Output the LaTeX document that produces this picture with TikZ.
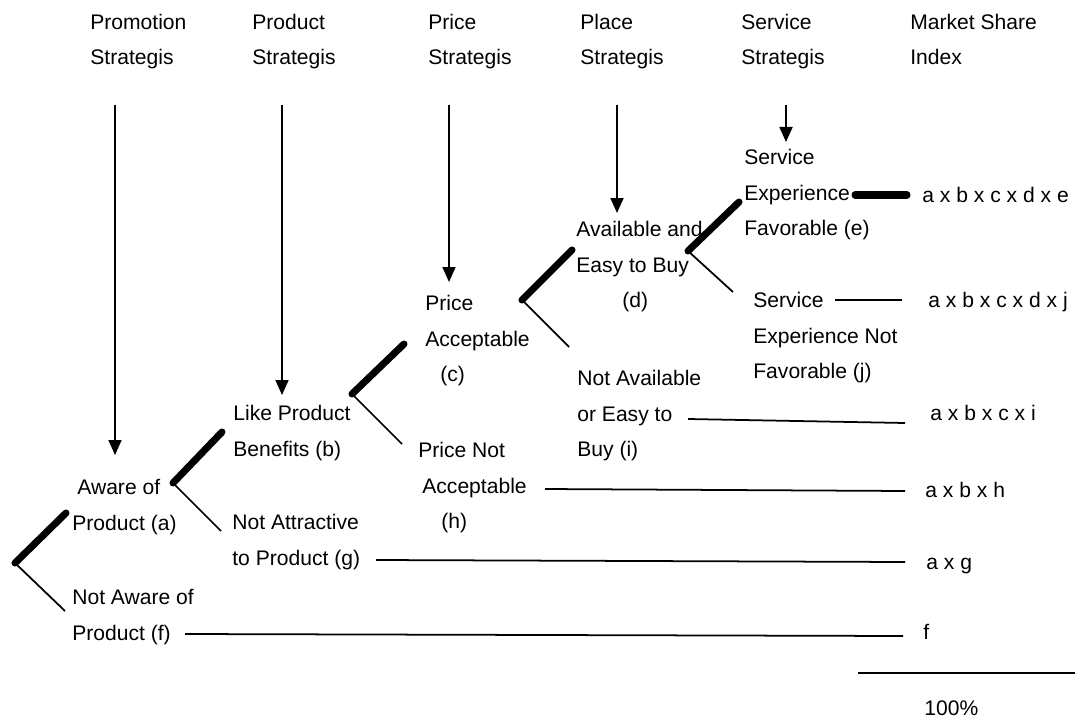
\documentclass[tikz,border=0pt]{standalone}
\usepackage{fontspec}
\setmainfont{Liberation Sans}
\usetikzlibrary{arrows.meta}

\begin{document}
\begin{tikzpicture}[
  x=0.02cm, y=-0.02cm,
  font=\fontsize{12}{20.3}\selectfont,
  lbl/.style={anchor=base west, inner sep=0pt, align=left},
  drop/.style={-{Triangle[length=0.3cm, width=0.26cm]}, line width=1pt},
  yes/.style={line width=4pt, line cap=round},
  no/.style={line width=1pt},
  share/.style={line width=1pt}
]
\useasboundingbox (0,0) rectangle (1077,719);

% column heads (placed by their last line)
\node[lbl] (hPromo) at (90,64.7) {Promotion\\Strategis};
\node[lbl] (hProd) at (252,64.7) {Product\\Strategis};
\node[lbl] (hPrice) at (428,64.7) {Price\\Strategis};
\node[lbl] (hPlace) at (580,64.7) {Place\\Strategis};
\node[lbl] (hServ) at (741,64.7) {Service\\Strategis};
\node[lbl] (hIndex) at (910,64.7) {Market Share\\Index};

% outcomes
\node[lbl] (servE) at (744,235.9) {Service\\Experience\\Favorable (e)};
\node[lbl] (availD) at (576,307.9) {Available and\\Easy to Buy\\\hspace{0.92cm}(d)};
\node[lbl] (priceC) at (425,381.9) {Price\\Acceptable\\\hspace{0.3cm}(c)};
\node[lbl] (servJ) at (753,378.9) {Service\\Experience Not\\Favorable (j)};
\node[lbl] (notAvI) at (577,456.9) {Not Available\\or Easy to\\Buy (i)};
\node[lbl] (likeB) at (233,456.2) {Like Product\\Benefits (b)};
\node[lbl] (priceH) at (418,528.9) {Price Not\\\hspace{0.08cm}Acceptable\\\hspace{0.46cm}(h)};
\node[lbl] (awareA) at (72,530.2) {\hspace{0.1cm}Aware of\\Product (a)};
\node[lbl] (notAttrG) at (232,565.2) {Not Attractive\\to Product (g)};
\node[lbl] (notAwareF) at (72,640.2) {Not Aware of\\Product (f)};

% market share
\node[lbl] (rE) at (922,202.5) {a x b x c x d x e};
\node[lbl] (rJ) at (928,307.5) {a x b x c x d x j};
\node[lbl] (rI) at (930,420.5) {a x b x c x i};
\node[lbl] (rH) at (925,497.5) {a x b x h};
\node[lbl] (rG) at (926,569.5) {a x g};
\node[lbl] (rF) at (923,639.5) {f};
\node[lbl] (rSum) at (924,715) {100\%};

% branch points
\coordinate (k0) at (15,563);
\coordinate (k0y) at (66,513);
\coordinate (k0n) at (65,611);
\coordinate (kA) at (173,483);
\coordinate (kAy) at (222,432);
\coordinate (kAn) at (221,531);
\coordinate (kB) at (352,394);
\coordinate (kBy) at (404,344);
\coordinate (kBn) at (402,444);
\coordinate (kC) at (522,300);
\coordinate (kCy) at (572,250);
\coordinate (kCn) at (569,347);
\coordinate (kD) at (688,251);
\coordinate (kDy) at (739,202);
\coordinate (kDn) at (733,292);

\draw[yes] (k0) -- (k0y);
\draw[no] (k0) -- (k0n);
\draw[yes] (kA) -- (kAy);
\draw[no] (kA) -- (kAn);
\draw[yes] (kB) -- (kBy);
\draw[no] (kB) -- (kBn);
\draw[yes] (kC) -- (kCy);
\draw[no] (kC) -- (kCn);
\draw[yes] (kD) -- (kDy);
\draw[no] (kD) -- (kDn);

% strategy arrows
\coordinate (promoTop) at (115,105);
\coordinate (promoEnd) at (115,455);
\coordinate (prodTop) at (282,105);
\coordinate (prodEnd) at (282,395);
\coordinate (priceTop) at (449,105);
\coordinate (priceEnd) at (449,282);
\coordinate (placeTop) at (617,105);
\coordinate (placeEnd) at (617,213);
\coordinate (servTop) at (786,105);
\coordinate (servEnd) at (786,142);

\draw[drop] (promoTop) -- (promoEnd);
\draw[drop] (prodTop) -- (prodEnd);
\draw[drop] (priceTop) -- (priceEnd);
\draw[drop] (placeTop) -- (placeEnd);
\draw[drop] (servTop) -- (servEnd);

% lines to the index
\coordinate (eOut) at (855,195);
\coordinate (eIn) at (907,195);
\coordinate (jOut) at (835,300);
\coordinate (jIn) at (902,300);
\coordinate (iOut) at (688,419);
\coordinate (iIn) at (905,423);
\coordinate (hOut) at (545,489);
\coordinate (hIn) at (905,491);
\coordinate (gOut) at (376,560);
\coordinate (gIn) at (905,562);
\coordinate (fOut) at (185,634);
\coordinate (fIn) at (903,636);
\coordinate (sumL) at (858,673);
\coordinate (sumR) at (1075,673);

\draw[yes] (eOut) -- (eIn);
\draw[share] (jOut) -- (jIn);
\draw[share] (iOut) -- (iIn);
\draw[share] (hOut) -- (hIn);
\draw[share] (gOut) -- (gIn);
\draw[share] (fOut) -- (fIn);
\draw[share] (sumL) -- (sumR);
\end{tikzpicture}
\end{document}
